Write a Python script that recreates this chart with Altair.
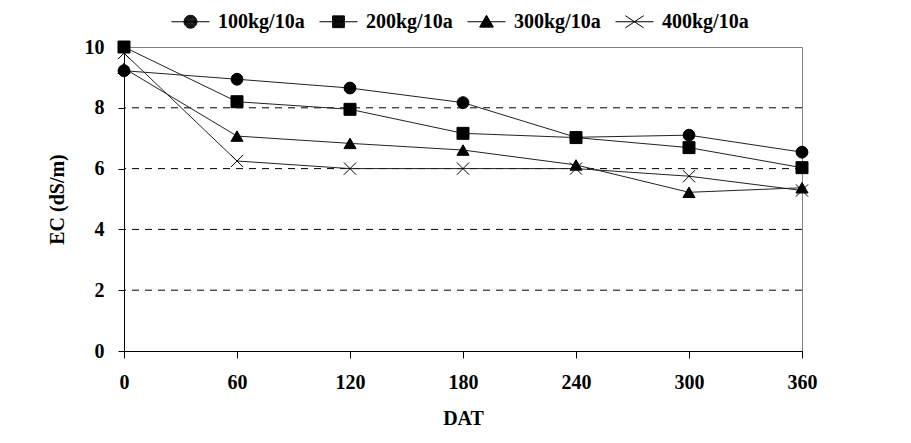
import altair as alt
import pandas as pd

days = [0, 60, 120, 180, 240, 300, 360]
series_names = ["100kg/10a", "200kg/10a", "300kg/10a", "400kg/10a"]
ec_100 = [9.22, 8.94, 8.65, 8.17, 7.03, 7.10, 6.54]
ec_200 = [10.0, 8.20, 7.95, 7.16, 7.02, 6.69, 6.03]
ec_300 = [9.30, 7.07, 6.83, 6.61, 6.12, 5.22, 5.37]
ec_400 = [9.80, 6.25, 6.00, 6.00, 6.00, 5.75, 5.28]
y_ticks = [0, 2, 4, 6, 8, 10]
x_ticks = [0, 60, 120, 180, 240, 300, 360]
grid_levels = [2, 4, 6, 8]

rows = []
for name, vals in zip(series_names, [ec_100, ec_200, ec_300, ec_400]):
    for d, v in zip(days, vals):
        rows.append({"day": d, "ec": v, "series": name})
df = pd.DataFrame(rows)
grid_df = pd.DataFrame({"level": grid_levels})

FONT = "Liberation Serif"

x_axis = alt.Axis(values=x_ticks, title="DAT", grid=False, tickSize=7,
                  labelPadding=14, titlePadding=16, domainColor="black",
                  tickColor="black", labelFlush=False)
y_axis = alt.Axis(values=y_ticks, title="EC (dS/m)", grid=False, tickSize=6,
                  labelPadding=14, titlePadding=17, domainColor="black",
                  tickColor="black")
x_scale = alt.Scale(domain=[0, 360], nice=False, zero=False)
y_scale = alt.Scale(domain=[0, 10], nice=False)

x_enc = alt.X("day:Q", scale=x_scale, axis=x_axis)
y_enc = alt.Y("ec:Q", scale=y_scale, axis=y_axis)

grid = alt.Chart(grid_df).mark_rule(color="black", strokeWidth=1, strokeDash=[7, 6]).encode(
    y=alt.Y("level:Q", scale=y_scale, axis=y_axis)
)

lines = alt.Chart(df).mark_line(color="#222222", strokeWidth=1).encode(
    x=x_enc, y=y_enc, detail="series:N", order="day:Q",
)

point_shapes = ["circle", "square", "triangle-up", "M-1,-1L1,1M-1,1L1,-1"]
point_sizes = [140, 150, 180, 180]
points = alt.Chart(df).mark_point(filled=True, fill="black", stroke="black", strokeWidth=1, opacity=1).encode(
    x=x_enc, y=y_enc,
    shape=alt.Shape("series:N", scale=alt.Scale(domain=series_names, range=point_shapes), legend=None),
    size=alt.Size("series:N", scale=alt.Scale(domain=series_names, range=point_sizes), legend=None),
)


# legend symbols (stroke only): line segment + solid-looking marker built
# from concentric outlines, so a single stroked legend shows everything
def f(v):
    return f"{v:.3f}"


def circle_fill(r0):
    parts = []
    r = r0
    while r > 0.01:
        parts.append(f"M{f(-r)},0A{f(r)},{f(r)} 0 1,0 {f(r)},0A{f(r)},{f(r)} 0 1,0 {f(-r)},0Z")
        r -= 0.03
    return "".join(parts)


def square_fill(h0):
    parts = []
    h = h0
    while h > 0.01:
        parts.append(f"M{f(-h)},{f(-h)}L{f(h)},{f(-h)}L{f(h)},{f(h)}L{f(-h)},{f(h)}Z")
        h -= 0.03
    return "".join(parts)


def triangle_fill():
    verts = [(0.0, -0.34), (0.36, 0.28), (-0.36, 0.28)]
    cx, cy = 0.0, sum(v[1] for v in verts) / 3
    parts = []
    k = 1.0
    while k > 0.03:
        pts = [(cx + (x - cx) * k, cy + (y - cy) * k) for x, y in verts]
        parts.append("M" + "L".join(f"{f(x)},{f(y)}" for x, y in pts) + "Z")
        k -= 0.07
    return "".join(parts)


SEG = "M-1,0L1,0"
legend_paths = [
    SEG + circle_fill(0.34),
    SEG + square_fill(0.31),
    SEG + triangle_fill(),
    SEG + "M-0.48,-0.32L0.48,0.32M-0.48,0.32L0.48,-0.32",
]

legend_layer = alt.Chart(df).transform_filter("datum.day < 0").mark_point(
    filled=False, color="black", strokeWidth=1, size=1444, opacity=1
).encode(
    x=x_enc, y=y_enc,
    shape=alt.Shape("series:N", scale=alt.Scale(domain=series_names, range=legend_paths),
                    legend=alt.Legend(title=None, orient="none", direction="horizontal",
                                      legendX=47, legendY=-45, symbolSize=1444,
                                      labelFont=FONT, labelFontSize=20, labelFontWeight="bold",
                                      labelColor="black", labelOffset=8, columnPadding=12,
                                      symbolStrokeWidth=1, symbolOpacity=1, padding=0)),
)

chart = alt.layer(grid, lines, points, legend_layer).resolve_scale(
    shape="independent", size="independent"
).properties(
    width=678, height=304,
    autosize=alt.AutoSizeParams(type="none"),
    padding={"left": 116, "top": 39, "right": 20, "bottom": 82},
    background="white",
).configure_view(
    stroke="#808080", strokeWidth=1
).configure_axis(
    labelFont=FONT, labelFontSize=20, labelFontWeight="bold", labelColor="black",
    titleFont=FONT, titleFontSize=20, titleFontWeight="bold", titleColor="black",
    domainWidth=1, tickWidth=1,
)

chart.save("out.html", embed_options={"renderer": "svg", "actions": False})
